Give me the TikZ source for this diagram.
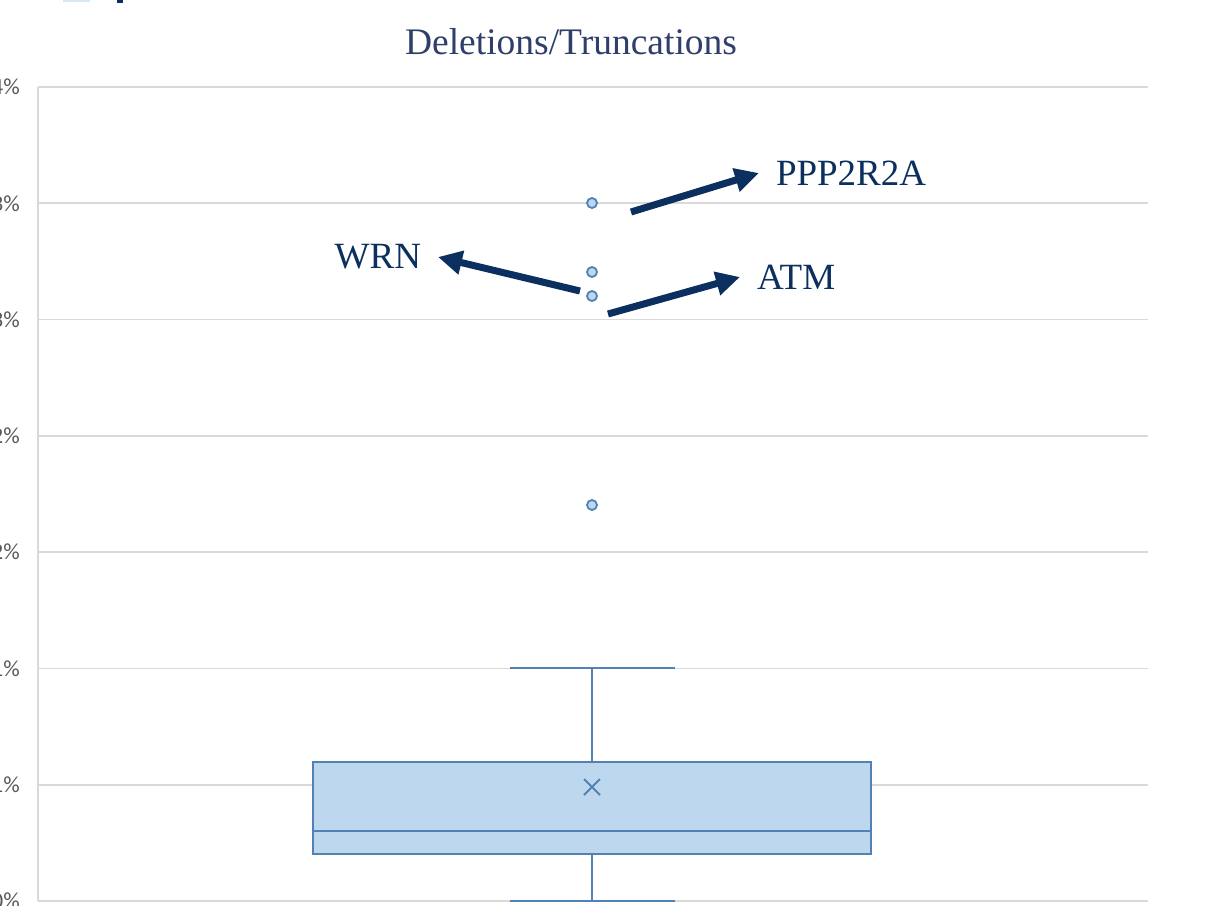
\documentclass[tikz,border=0pt]{standalone}
\usepackage{fontspec}
\setmainfont{Liberation Serif}
\newfontfamily\axisfont{Carlito}
\usepackage{xcolor}
\usepackage{tikz}
\usetikzlibrary{arrows.meta}

\definecolor{gridgray}{HTML}{D9D9D9}
\definecolor{boxfill}{HTML}{BDD7EE}
\definecolor{boxline}{HTML}{5282B4}
\definecolor{navy}{HTML}{0B2F5E}
\definecolor{titleblue}{HTML}{2F3F6B}
\definecolor{ticklabel}{HTML}{595959}

\tikzset{
  genelabel/.style={text=navy, font=\fontsize{37}{40}\selectfont, inner sep=0pt, outer sep=17pt},
  callout/.style={navy, line width=7pt, -{Triangle[length=24pt,width=23pt]}},
  outlier/.style={circle, fill=boxfill, draw=boxline, line width=1.8pt, minimum size=10pt, inner sep=0pt},
  ticktext/.style={anchor=east, text=ticklabel, font=\axisfont\fontsize{23}{25}\selectfont, inner sep=0pt},
  boxpart/.style={boxline, line width=1.8pt}
}

\begin{document}
\begin{tikzpicture}[x=1pt,y=-1pt]
  \useasboundingbox (0,0) rectangle (1209,905);
  \fill[white] (0,0) rectangle (1209,905);
  \fill[boxfill!60] (63,0) rectangle (90,2);
  \fill[navy] (117,0) rectangle (123,3);
  \node[text=titleblue, font=\fontsize{37.5}{40}\selectfont] (title) at (571,42) {Deletions/Truncations};
  \foreach \i in {0,...,7}
    \draw[gridgray, line width=1.8pt] (38,901-116.29*\i) -- (1148,901-116.29*\i);
  \draw[gridgray, line width=1.8pt] (38,87) -- (38,901);
  \begin{scope}
    \clip (0,0) rectangle (1209,905);
    \foreach \i/\t in {0/0.00,1/0.01,2/0.01,3/0.02,4/0.02,5/0.03,6/0.03,7/0.04}
      \node[ticktext] (tick\i) at (20,901-116.29*\i) {\t\%};
  \end{scope}
  \draw[boxpart] (592,668) -- (592,762);
  \draw[boxpart] (510,668) -- (675,668);
  \draw[boxpart] (592,854) -- (592,901);
  \draw[boxpart] (510,901) -- (675,901);
  \filldraw[boxpart, fill=boxfill] (313,762) rectangle (871,854);
  \draw[boxpart] (313,831) -- (871,831);
  \draw[boxpart] (584,779) -- (600,795) (584,795) -- (600,779);
  \node[outlier] (o1) at (592,203) {};
  \node[outlier] (o2) at (592,272) {};
  \node[outlier] (o3) at (592,296) {};
  \node[outlier] (o4) at (592,505) {};
  \node[genelabel, anchor=west] (ppp) at (776-17,173) {PPP2R2A};
  \node[genelabel, anchor=east] (wrn) at (421+17,257) {WRN};
  \node[genelabel, anchor=west] (atm) at (757-17,277) {ATM};
  \coordinate (ppptail) at (631,212);
  \coordinate (wrntail) at (580,291);
  \coordinate (atmtail) at (608,314);
  \draw[callout] (ppptail) -- (ppp.west);
  \draw[callout] (wrntail) -- (wrn.east);
  \draw[callout] (atmtail) -- (atm.west);
\end{tikzpicture}
\end{document}
